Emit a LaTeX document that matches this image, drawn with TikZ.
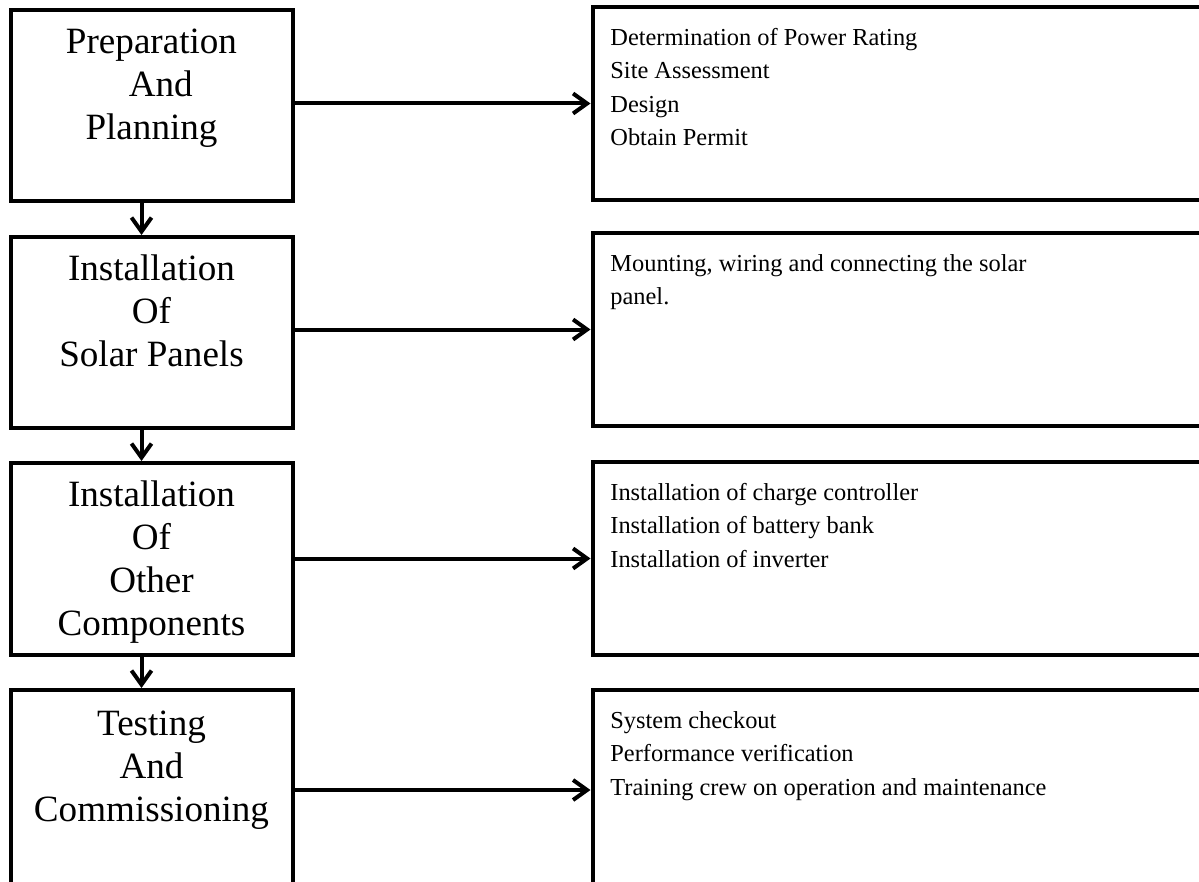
\documentclass[tikz,border=0pt]{standalone}
\usepackage{fontspec}
\setmainfont{Liberation Serif}
\usetikzlibrary{arrows.meta}

\begin{document}
\begin{tikzpicture}[x=0.5pt, y=-0.5pt,
  stage/.style={draw, line width=2pt, minimum width=141pt, minimum height=95.5pt, inner sep=0pt},
  act/.style={draw, line width=2pt, minimum width=311.25pt, minimum height=96.5pt, inner sep=0pt},
  stagetext/.style={anchor=north, align=center, inner sep=0pt, yshift=-7.45pt,
    font=\fontsize{18.55pt}{21.5pt}\selectfont},
  acttext/.style={anchor=north west, align=left, inner sep=0pt, xshift=9.75pt, yshift=-8.3pt,
    font=\fontsize{12.2pt}{16.75pt}\selectfont},
  >={Straight Barb[length=7pt, width=10pt]}]
  \useasboundingbox (0,0) rectangle (1199,882);

  % stages on the left
  \node[stage, label={[stagetext]north:{\strut Preparation\\\hspace*{0.5em}And\\Planning}}] (st-1) at (151.5,105.5) {};
  \node[stage, label={[stagetext]north:{\strut Installation\\Of\\Solar Panels}}] (st-2) at (151.5,332.5) {};
  \node[stage, minimum height=96pt, label={[stagetext]north:{\strut Installation\\Of\\Other\\Components}}] (st-3) at (151.5,559) {};
  \node[stage, minimum height=100pt, label={[stagetext, yshift=-1pt]north:{\strut Testing\\And\\Commissioning}}] (st-4) at (151.5,790) {};

  % activities on the right
  \node[act, label={[acttext]north west:{\strut Determination of Power Rating\\Site Assessment\\Design\\Obtain Permit}}] (act-1) at (903.75,103.5) {};
  \node[act, label={[acttext]north west:{\strut Mounting, wiring and connecting the solar\\panel.}}] (act-2) at (903.75,329.5) {};
  \node[act, label={[acttext]north west:{\strut Installation of charge controller\\Installation of battery bank\\Installation of inverter}}] (act-3) at (903.75,558.5) {};
  \node[act, minimum height=100pt, label={[acttext]north west:{\strut System checkout\\Performance verification\\Training crew on operation and maintenance}}] (act-4) at (903.75,790) {};

  \path[->, line width=2pt]
  (st-1.east |- act-1.west) edge (act-1.west)
  (st-2.east |- act-2.west) edge (act-2.west)
  (st-3.east |- act-3.west) edge (act-3.west)
  (st-4.east |- act-4.west) edge (act-4.west)
  ([xshift=-5pt]st-1.south) edge ([xshift=-5pt]st-2.north)
  ([xshift=-5pt]st-2.south) edge ([xshift=-5pt]st-3.north)
  ([xshift=-5pt]st-3.south) edge ([xshift=-5pt]st-4.north)
  ;
\end{tikzpicture}
\end{document}
